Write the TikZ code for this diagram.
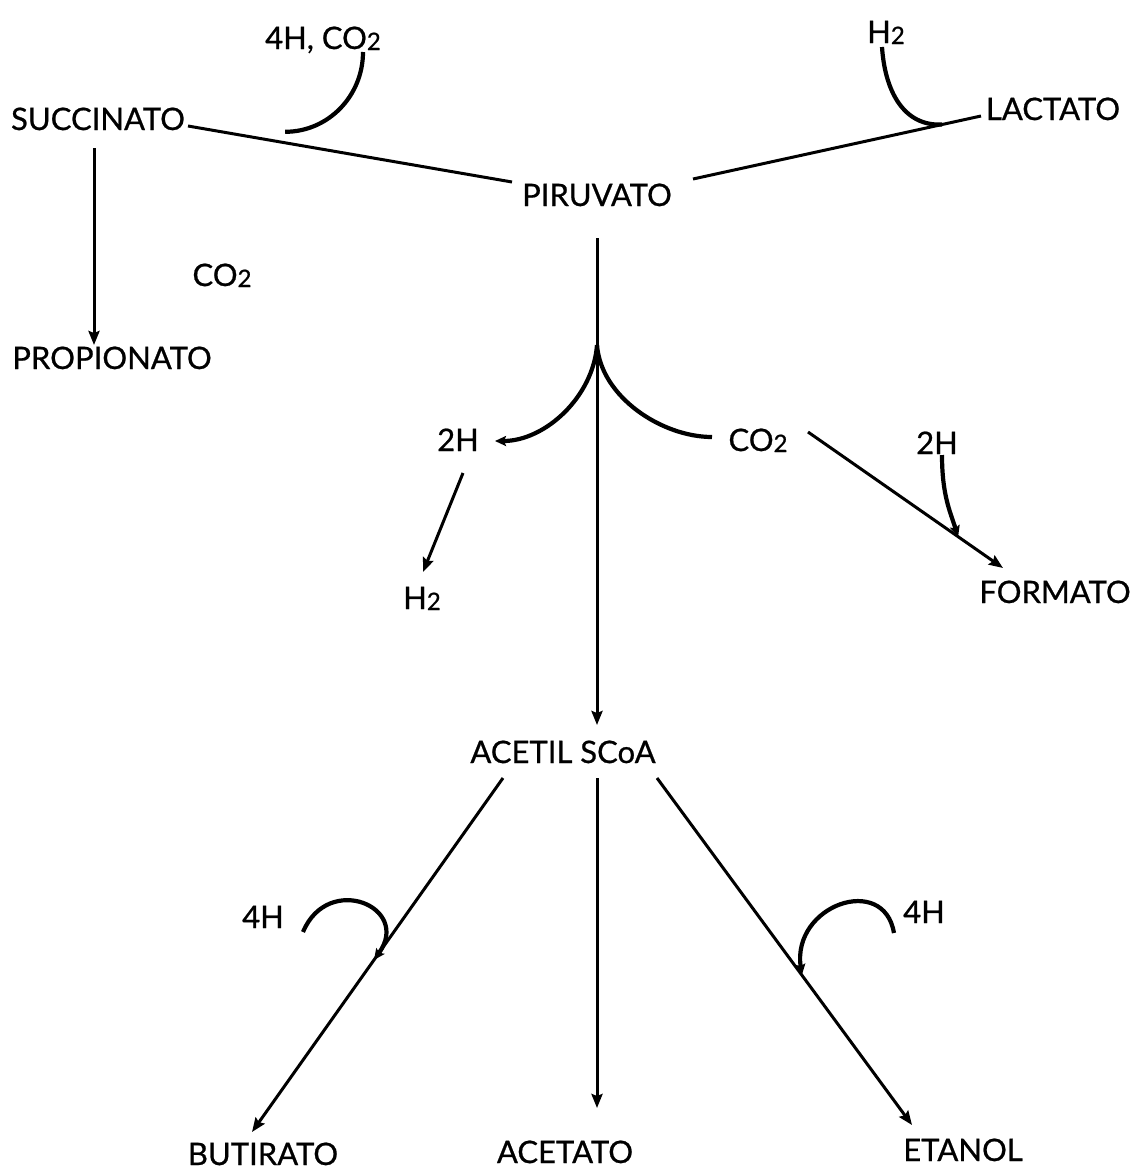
\documentclass[tikz,border=0pt]{standalone}
\usepackage{fontspec}
\setmainfont{Lato}
\newfontfamily\lblfont[FakeBold=0.7]{Lato}
\usetikzlibrary{arrows.meta}
% small inferior "2" used in the formulas
\newcommand\subtwo{\raisebox{-1pt}{\fontsize{24}{24}\selectfont 2}}
\begin{document}
\begin{tikzpicture}[x=1pt, y=-1pt,
  lbl/.style={inner sep=0pt, text height=22pt, text depth=0pt,
              font=\lblfont\fontsize{31}{36}\selectfont},
  conn/.style={line width=3pt},
  arr/.style={conn, -{Stealth[length=14pt,width=11pt,inset=2pt]}},
  hook/.style={line width=4.2pt},
  hookarr/.style={hook, -{Stealth[length=11pt,width=10pt,inset=2pt]}}]

\fill[white] (0,0) rectangle (1140,1170);
\useasboundingbox (0,0) rectangle (1140,1170);

% metabolites and cofactors
\node[lbl] (suc)    at (98,119)   {SUCCINATO};
\node[lbl] (h4co2)  at (323,38)   {4H, CO\subtwo};
\node[lbl] (piru)   at (597,195)  {PIRUVATO};
\node[lbl] (h2a)    at (886,32)   {H\subtwo};
\node[lbl] (lac)    at (1053,109) {LACTATO};
\node[lbl] (prop)   at (112,358)  {PROPIONATO};
\node[lbl] (co2a)   at (222,275)  {CO\subtwo};
\node[lbl] (h2b)    at (458,440)  {2H};
\node[lbl] (co2b)   at (758,440)  {CO\subtwo};
\node[lbl] (h2c)    at (422,598)  {H\subtwo};
\node[lbl] (h2d)    at (937,443)  {2H};
\node[lbl] (form)   at (1055,592) {FORMATO};
\node[lbl] (acetil) at (563,752)  {ACETIL SCoA};
\node[lbl] (h4a)    at (263,917)  {4H};
\node[lbl] (h4b)    at (924,912)  {4H};
\node[lbl] (but)    at (263,1154) {BUTIRATO};
\node[lbl] (acet)   at (565,1152) {ACETATO};
\node[lbl] (etan)   at (963,1150) {ETANOL};

% succinate branch
\draw[conn] ([shift={(90,7)}]suc.center) -- node[coordinate,pos=0.3] (jsuc) {}
            ([shift={(-85,-13)}]piru.center);
\draw[hook] ([shift={(40,14)}]h4co2.center) .. controls +(0,44) and +(43,0) ..
            ([shift={(0,-11)}]jsuc);
\draw[arr]  ([shift={(-4,29)}]suc.center) -- ([shift={(-18,-13)}]prop.center);

% lactate branch
\draw[conn] ([shift={(-72,7)}]lac.center) -- node[coordinate,pos=0.135] (jlac) {}
            ([shift={(96,-16)}]piru.center);
\draw[hook] ([shift={(-4,15)}]h2a.center) .. controls +(3,45) and +(-38,2) .. (jlac);

% pyruvate to acetyl-CoA
\draw[arr]  ([shift={(0,43)}]piru.center) -- node[coordinate,pos=0.22] (cusp) {}
            ([shift={(34,-27)}]acetil.center);
\draw[hook, -{Stealth[length=11pt,width=10pt,inset=2pt]}]
            (cusp) .. controls +(-4,52) and +(50,0) .. ([shift={(37,1)}]h2b.center);
\draw[hook] (cusp) .. controls +(4,52) and +(-50,0) .. ([shift={(-46,-3)}]co2b.center);
\draw[arr]  ([shift={(5,33)}]h2b.center) -- ([shift={(1,-26)}]h2c.center);

% formate
\draw[arr]  ([shift={(50,-8)}]co2b.center) -- node[coordinate,pos=0.77] (jform) {}
            ([shift={(-52,-24)}]form.center);
\draw[hookarr] ([shift={(5,12)}]h2d.center) .. controls +(0,40) and +(-8,-25) .. (jform);

% acetyl-CoA products
\draw[arr]  ([shift={(-60,26)}]acetil.center) -- node[coordinate,pos=0.514] (jl) {}
            ([shift={(-11,-22)}]but.center);
\draw[arr]  ([shift={(34,26)}]acetil.center) -- ([shift={(32,-44)}]acet.center);
\draw[arr]  ([shift={(94,26)}]acetil.center) -- node[coordinate,pos=0.568] (jr) {}
            ([shift={(-51,-25)}]etan.center);
\draw[hookarr] ([shift={(40,15)}]h4a.center) .. controls +(25,-60) and +(38,-53) .. (jl);
\draw[hookarr] ([shift={(-30,21)}]h4b.center) .. controls +(-10,-60) and +(-10,-70) .. (jr);

\end{tikzpicture}
\end{document}
